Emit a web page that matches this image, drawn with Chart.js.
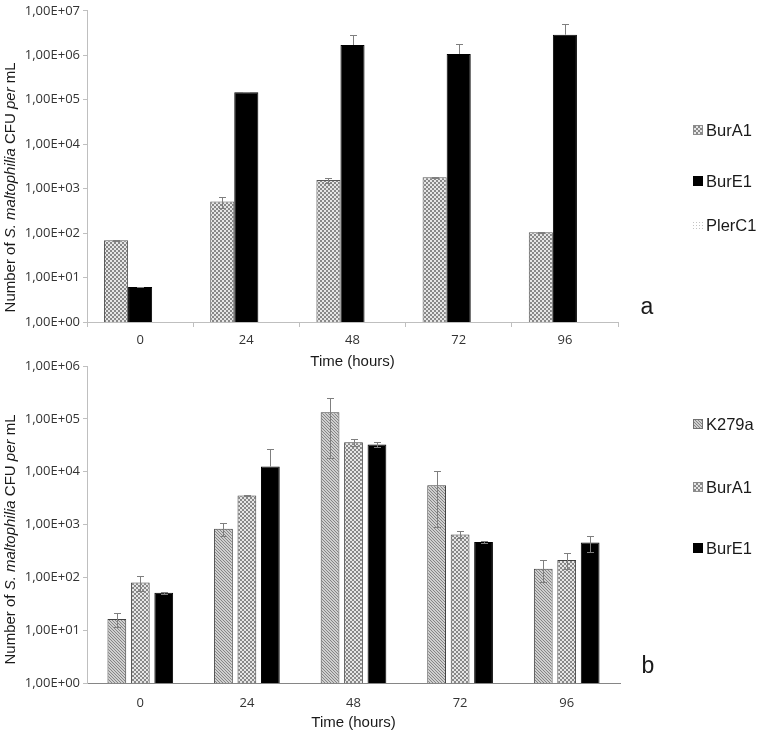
<!DOCTYPE html>
<html>
<head>
<meta charset="utf-8">
<script src="https://cdn.jsdelivr.net/npm/chart.js@4/dist/chart.umd.min.js"></script>
<style>
  html, body { margin: 0; padding: 0; background: #fff; width: 758px; height: 733px; overflow: hidden; }
  .panel { position: absolute; left: 0; }
  #panelA { top: 0; }
  #panelB { top: 355px; }
</style>
</head>
<body>
<div class="panel" id="panelA"><canvas id="chartA" width="758" height="375" style="width:758px;height:375px"></canvas></div>
<div class="panel" id="panelB"><canvas id="chartB" width="758" height="378" style="width:758px;height:378px"></canvas></div>
<script>
// DATA
// =============================================================================

const timeLabels = ['0', '24', '48', '72', '96'];
const yTicksA = [1, 10, 100, 1e3, 1e4, 1e5, 1e6, 1e7];
const yTicksB = [1, 10, 100, 1e3, 1e4, 1e5, 1e6];

// panel a (means and standard deviations, CFU per mL)
const burA1A = [69, 515, 1560, 1800, 104];
const burA1ASd = [1, 140, 200, 30, 2];
const burE1A = [6.1, 148000, 1700000, 1070000, 2900000];
const burE1ASd = [0.1, 2000, 1200000, 680000, 2200000];
const plerC1A = [null, null, null, null, null];

// panel b
const k279aB = [16.3, 835, 133000, 5540, 146];
const k279aBSd = [5, 235, 115000, 4650, 65];
const burA1B = [80, 3540, 36000, 645, 214];
const burA1BSd = [25, 150, 5000, 95, 70];
const burE1B = [51, 12500, 32600, 468, 455];
const burE1BSd = [2, 14500, 3500, 20, 150];

// PATTERNS
// =============================================================================

const makePattern = (size, draw) => {
  const c = document.createElement('canvas');
  c.width = c.height = size;
  const g = c.getContext('2d');
  draw(g);
  return g.createPattern(c, 'repeat');
};

// fine checker (BurA1)
const checker = makePattern(4, g => {
  g.fillStyle = '#e6e6e6';
  g.fillRect(0, 0, 4, 4);
  g.fillStyle = '#888888';
  g.fillRect(0, 0, 2, 2);
  g.fillRect(2, 2, 2, 2);
});

// dense diagonal hatch (K279a)
const diagonal = makePattern(3, g => {
  g.fillStyle = '#cfcfcf';
  g.fillRect(0, 0, 3, 3);
  g.fillStyle = '#858585';
  for (let i = 0; i < 3; i++) g.fillRect(i, i, 1, 1);
});

// very light dots (PlerC1, legend only)
const dots = makePattern(3, g => {
  g.fillStyle = '#ffffff';
  g.fillRect(0, 0, 3, 3);
  g.fillStyle = '#c4c4c4';
  g.fillRect(0, 0, 1, 1);
});

// PLUGINS
// =============================================================================

const expLabel = v => '1,00E+' + String(Math.round(Math.log10(v))).padStart(2, '0');

/**
 * Draws linear SD error bars; the minus side is skipped when it
 * falls below zero (log axis) or when the dataset is plus-only
 */
const errorBars = {
  id: 'errorBars',
  afterDatasetsDraw(chart) {
    const ctx = chart.ctx;
    const y = chart.scales.y;
    chart.data.datasets.forEach((ds, i) => {
      if (!ds.errors) return;
      const meta = chart.getDatasetMeta(i);
      meta.data.forEach((bar, j) => {
        const v = ds.data[j];
        const e = ds.errors[j];
        if (v == null || !e) return;
        const x = Math.round(bar.x) + 0.5;
        const yv = y.getPixelForValue(v);
        const hi = Math.round(y.getPixelForValue(v + e)) + 0.5;
        const showLo = !ds.plusOnly && v - e > 0;
        const lo = showLo ? Math.round(y.getPixelForValue(v - e)) + 0.5 : yv;
        ctx.save();
        ctx.strokeStyle = ds.errorColor || '#7f7f7f';
        ctx.lineWidth = 1;
        ctx.beginPath();
        ctx.moveTo(x, hi);
        ctx.lineTo(x, lo);
        ctx.moveTo(x - 3.5, hi);
        ctx.lineTo(x + 3.5, hi);
        if (showLo) {
          ctx.moveTo(x - 3.5, lo);
          ctx.lineTo(x + 3.5, lo);
        }
        ctx.stroke();
        ctx.restore();
      });
    });
  }
};

/**
 * Axis titles with italic parts, legend on the right and panel letter
 */
const panelText = {
  id: 'panelText',
  afterDraw(chart, args, o) {
    const ctx = chart.ctx;
    const area = chart.chartArea;
    ctx.save();
    ctx.fillStyle = '#1a1a1a';
    ctx.textBaseline = 'middle';

    // y title, rotated, mixed italic
    const parts = [
      ['Number of ', false], ['S. maltophilia', true], [' CFU ', false], ['per', true], [' mL', false]
    ];
    const fontFor = it => (it ? 'italic ' : '') + '15px "Liberation Sans", Arial, sans-serif';
    let total = 0;
    parts.forEach(([t, it]) => { ctx.font = fontFor(it); total += ctx.measureText(t).width; });
    ctx.save();
    ctx.translate(o.yTitleX, (area.top + area.bottom) / 2 + o.yTitleShift);
    ctx.rotate(-Math.PI / 2);
    let px = -total / 2;
    ctx.textAlign = 'left';
    parts.forEach(([t, it]) => {
      ctx.font = fontFor(it);
      ctx.fillText(t, px, 0);
      px += ctx.measureText(t).width;
    });
    ctx.restore();

    // x title
    ctx.font = '15px "Liberation Sans", Arial, sans-serif';
    ctx.textAlign = 'center';
    ctx.fillText('Time (hours)', (area.left + area.right) / 2, o.xTitleY);

    // legend
    ctx.textAlign = 'left';
    ctx.font = '16.5px "Liberation Sans", Arial, sans-serif';
    o.legendY.forEach((ly, i) => {
      const ds = chart.data.datasets[i];
      ctx.fillStyle = ds.legendFill || ds.backgroundColor;
      ctx.fillRect(o.legendX, ly - 5, 10, 10);
      if (ds.legendBorder) {
        ctx.strokeStyle = ds.legendBorder;
        ctx.lineWidth = 1;
        ctx.strokeRect(o.legendX + 0.5, ly - 4.5, 9, 9);
      }
      ctx.fillStyle = '#1a1a1a';
      ctx.fillText(ds.label, o.legendX + 13, ly + 1);
    });

    // panel letter
    ctx.font = '23px "Liberation Sans", Arial, sans-serif';
    ctx.textAlign = 'center';
    ctx.fillText(o.letter, o.letterX, o.letterY);
    ctx.restore();
  }
};

// CHART FACTORY
// =============================================================================

const tickFont = { family: '"Open Sans", sans-serif', size: 13 };

const buildOptions = (cfg) => ({
  responsive: false,
  animation: false,
  layout: { padding: { left: 0, right: cfg.rightPad, top: cfg.topPad, bottom: 0 } },
  plugins: {
    legend: { display: false },
    tooltip: { enabled: false },
    panelText: cfg.text
  },
  scales: {
    x: {
      offset: true,
      grid: {
        display: cfg.xTicks,
        drawOnChartArea: false,
        offset: true,
        tickLength: 5,
        color: cfg.axisColor
      },
      border: { display: true, color: cfg.xAxisColor, width: 1 },
      ticks: { color: '#333', font: tickFont, padding: cfg.xPad },
      afterFit: s => { s.height = cfg.xHeight; }
    },
    y: {
      type: 'logarithmic',
      min: 1,
      max: cfg.yMax,
      grid: { display: true, drawOnChartArea: false, tickLength: 4, color: cfg.axisColor },
      border: { display: true, color: cfg.axisColor, width: 1 },
      ticks: { color: '#333', font: tickFont, padding: 3, callback: v => expLabel(v) },
      afterBuildTicks: s => { s.ticks = cfg.yTicks.map(v => ({ value: v })); },
      afterFit: s => { s.width = 87; }
    }
  }
});

new Chart(document.getElementById('chartA'), {
  type: 'bar',
  data: {
    labels: timeLabels,
    datasets: [
      {
        label: 'BurA1', data: burA1A, errors: burA1ASd,
        backgroundColor: checker, borderColor: '#5a5a5a', borderWidth: 1,
        legendBorder: '#8c8c8c',
        categoryPercentage: 0.68, barPercentage: 1.0
      },
      {
        label: 'BurE1', data: burE1A, errors: burE1ASd, plusOnly: true,
        backgroundColor: '#000', borderColor: '#000', borderWidth: 1,
        categoryPercentage: 0.68, barPercentage: 1.0
      },
      {
        label: 'PlerC1', data: plerC1A,
        backgroundColor: dots, borderWidth: 0,
        categoryPercentage: 0.68, barPercentage: 1.0
      }
    ]
  },
  options: buildOptions({
    rightPad: 140, topPad: 7, xHeight: 53, xPad: 5, xTicks: true,
    axisColor: '#bfbfbf', xAxisColor: '#bfbfbf',
    yMax: 1e7, yTicks: yTicksA,
    text: {
      yTitleX: 11, yTitleShift: 21, xTitleY: 362,
      legendX: 693, legendY: [130, 181, 225],
      letter: 'a', letterX: 647, letterY: 308
    }
  }),
  plugins: [errorBars, panelText]
});

new Chart(document.getElementById('chartB'), {
  type: 'bar',
  data: {
    labels: timeLabels,
    datasets: [
      {
        label: 'K279a', data: k279aB, errors: k279aBSd,
        backgroundColor: diagonal, borderColor: '#404040', borderWidth: 1,
        legendBorder: '#707070',
        categoryPercentage: 0.66, barPercentage: 0.8
      },
      {
        label: 'BurA1', data: burA1B, errors: burA1BSd,
        backgroundColor: checker, borderColor: '#404040', borderWidth: 1,
        legendBorder: '#8c8c8c',
        categoryPercentage: 0.66, barPercentage: 0.8
      },
      {
        label: 'BurE1', data: burE1B, errors: burE1BSd,
        backgroundColor: '#000', borderColor: '#000', borderWidth: 1,
        categoryPercentage: 0.66, barPercentage: 0.8
      }
    ]
  },
  options: buildOptions({
    rightPad: 138, topPad: 11, xHeight: 50, xPad: 7, xTicks: false,
    axisColor: '#bfbfbf', xAxisColor: '#868686',
    yMax: 1e6, yTicks: yTicksB,
    text: {
      yTitleX: 11, yTitleShift: 15, xTitleY: 368,
      legendX: 693, legendY: [69, 132, 193],
      letter: 'b', letterX: 648, letterY: 312
    }
  }),
  plugins: [errorBars, panelText]
});
</script>
</body>
</html>
